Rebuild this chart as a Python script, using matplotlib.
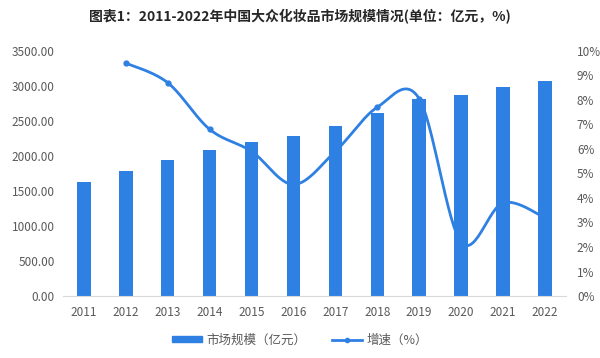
import numpy as np
import matplotlib.pyplot as plt
from matplotlib.lines import Line2D
from matplotlib.patches import Patch

plt.rcParams['font.family'] = ['Noto Sans CJK SC', 'DejaVu Sans']

# 数据
years = ['2011', '2012', '2013', '2014', '2015', '2016',
         '2017', '2018', '2019', '2020', '2021', '2022']
market = [1633, 1786, 1943, 2081, 2200, 2290, 2429, 2610, 2810, 2876, 2981, 3067]
growth_years = years[1:]
growth = [9.5, 8.7, 6.8, 5.9, 4.55, 5.9, 7.7, 8.05, 2.2, 3.8, 3.2]

blue = '#2F80E3'
gray = '#595959'

fig = plt.figure(figsize=(6, 3.58), dpi=100)
ax = fig.add_axes([0.105, 0.173, 0.838, 0.685])
ax2 = ax.twinx()

x = np.arange(len(years))
ax.bar(x, market, width=0.32, color=blue, zorder=2)
ax.set_ylim(0, 3500)
ax.set_yticks(np.arange(0, 3501, 500))
ax.set_yticklabels([f'{v:.2f}' for v in np.arange(0, 3501, 500)])
ax.set_xlim(-0.5, len(years) - 0.5)
ax.set_xticks(x)
ax.set_xticklabels(years)


# 平滑曲线 (Catmull-Rom, 类似 Excel 平滑线)
def smooth(px, py, n=30):
    pts = np.column_stack([px, py]).astype(float)
    pts = np.vstack([pts[0], pts, pts[-1]])
    out = []
    for i in range(1, len(pts) - 2):
        p0, p1, p2, p3 = pts[i - 1], pts[i], pts[i + 1], pts[i + 2]
        t = np.linspace(0, 1, n)[:, None]
        seg = 0.5 * ((2 * p1) + (-p0 + p2) * t +
                     (2 * p0 - 5 * p1 + 4 * p2 - p3) * t ** 2 +
                     (-p0 + 3 * p1 - 3 * p2 + p3) * t ** 3)
        out.append(seg)
    out = np.vstack(out)
    return out[:, 0], out[:, 1]


gx = x[1:]
sx, sy = smooth(gx, growth)
ax2.plot(sx, sy, color=blue, lw=2.0, zorder=3, solid_capstyle='round')
ax2.plot(gx, growth, 'o', color=blue, ms=3.5, zorder=4)
ax2.set_ylim(0, 10)
ax2.set_yticks(range(0, 11))
ax2.set_yticklabels([f'{v}%' for v in range(0, 11)])

for a in (ax, ax2):
    for s in a.spines.values():
        s.set_visible(False)
    a.tick_params(length=0, colors=gray, labelsize=8.5)
ax.spines['bottom'].set_visible(True)
ax.spines['bottom'].set_color('#D9D9D9')
ax.tick_params(axis='x', pad=7)
ax.tick_params(axis='y', pad=6)
ax2.tick_params(axis='y', pad=8)

fig.text(0.5, 0.953, '图表1：2011-2022年中国大众化妆品市场规模情况(单位：亿元，%)',
         ha='center', va='center', fontsize=10, fontweight='bold', color='#262626')

# 图例
handles = [Patch(color=blue), Line2D([0], [0], color=blue, lw=2.0, marker='o', ms=3)]
fig.legend(handles, ['市场规模（亿元）', '增速（%）'], loc='center',
           bbox_to_anchor=(0.5, 0.05), ncol=2, frameon=False, fontsize=9,
           labelcolor=gray, handlelength=2.4, handleheight=0.4, handletextpad=0.4,
           columnspacing=2.0)

fig.savefig('out.png', dpi=100, facecolor='white')
